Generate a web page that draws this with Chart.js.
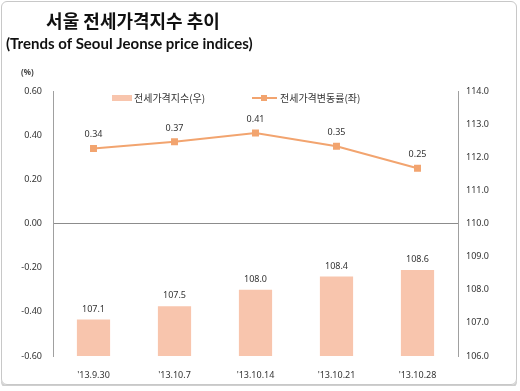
<!DOCTYPE html>
<html>
<head>
<meta charset="utf-8">
<script src="https://cdn.jsdelivr.net/npm/chart.js@4"></script>
<style>
  html, body { margin: 0; padding: 0; background: #fff; }
  #wrap {
    position: relative; width: 516px; height: 384px; margin: 1px;
    border: 1px solid #c8c8c8; border-radius: 6px; box-sizing: border-box;
    box-shadow: 0 3px 0 #cfcfcf;
  }
  #chart { position: absolute; left: -1px; top: -1px; }
</style>
</head>
<body>
<div id="wrap"><canvas id="chart" width="520" height="391"></canvas></div>
<script>
// ── data ──
const dates = ["'13.9.30", "'13.10.7", "'13.10.14", "'13.10.21", "'13.10.28"];
const indexValues = [107.1, 107.5, 108.0, 108.4, 108.6];   // 전세가격지수 (right axis)
const changeRates = [0.34, 0.37, 0.41, 0.35, 0.25];        // 전세가격변동률 (left axis)
const seriesNames = ['전세가격지수(우)', '전세가격변동률(좌)'];
const titleKo = '서울 전세가격지수 추이';
const titleEn = '(Trends of Seoul Jeonse price indices)';
const unitLabel = '(%)';

const barColor = '#f8c5ad';
const lineColor = '#f2a46f';
const textColor = '#333';
const numFont = '"Noto Sans", "Noto Sans CJK KR", sans-serif';
const koFont = '"Noto Sans CJK KR", sans-serif';

// ── custom drawing: titles, unit, legend, value labels ──
const extras = {
    id: 'extras',
    afterDatasetsDraw(chart) {
        const ctx = chart.ctx;
        ctx.save();
        // titles
        ctx.fillStyle = '#111';
        ctx.textBaseline = 'middle';
        ctx.textAlign = 'center';
        ctx.font = 'bold 18px ' + koFont;
        ctx.fillText(titleKo, 132, 20);
        ctx.textAlign = 'left';
        ctx.font = 'bold 15px Lato, sans-serif';
        ctx.fillText(titleEn, 5, 43);
        ctx.font = 'bold 8px ' + numFont;
        ctx.fillStyle = '#444';
        ctx.fillText(unitLabel, 20, 72);

        // legend
        ctx.font = '10px ' + koFont;
        ctx.fillStyle = barColor;
        ctx.fillRect(111, 94, 20, 6);
        ctx.fillStyle = textColor;
        ctx.fillText(seriesNames[0], 133, 97);
        ctx.strokeStyle = lineColor;
        ctx.lineWidth = 2;
        ctx.beginPath(); ctx.moveTo(251, 97); ctx.lineTo(276, 97); ctx.stroke();
        ctx.fillStyle = lineColor;
        ctx.fillRect(260, 94, 6, 6);
        ctx.fillStyle = textColor;
        ctx.fillText(seriesNames[1], 279, 97);

        // value labels
        ctx.font = '9px ' + numFont;
        ctx.textAlign = 'center';
        ctx.textBaseline = 'bottom';
        chart.getDatasetMeta(0).data.forEach((el, i) => {
            ctx.fillText(indexValues[i].toFixed(1), el.x, el.y - 6);
        });
        chart.getDatasetMeta(1).data.forEach((el, i) => {
            ctx.fillText(changeRates[i].toFixed(2), el.x, el.y - 9);
        });
        ctx.restore();
    }
};

new Chart(document.getElementById('chart'), {
    data: {
        labels: dates,
        datasets: [
            { type: 'bar', label: seriesNames[0], data: indexValues, yAxisID: 'y1',
              backgroundColor: barColor, barPercentage: 0.41, categoryPercentage: 1, order: 2 },
            { type: 'line', label: seriesNames[1], data: changeRates, yAxisID: 'y',
              borderColor: lineColor, backgroundColor: lineColor, borderWidth: 2,
              pointStyle: 'rect', pointRadius: 3.5, tension: 0, order: 1 }
        ]
    },
    options: {
        responsive: false,
        animation: false,
        layout: { padding: { top: 90, left: 0, right: 0, bottom: 0 } },
        plugins: { legend: { display: false }, tooltip: { enabled: false } },
        scales: {
            x: {
                grid: { display: false }, border: { display: false },
                ticks: { color: textColor, font: { size: 9, family: numFont }, padding: 6 },
                afterFit: (s) => { s.height = 36; }
            },
            y: {
                position: 'left', min: -0.6, max: 0.6,
                border: { display: true, color: '#a0a0a0' },
                grid: { drawTicks: false, color: (c) => c.tick && c.tick.value === 0 ? '#8c8c8c' : 'rgba(0,0,0,0)' },
                ticks: { stepSize: 0.2, color: textColor, font: { size: 9, family: numFont }, padding: 11,
                         callback: (v) => Number(v).toFixed(2) },
                afterFit: (s) => { s.width = 52; }
            },
            y1: {
                position: 'right', min: 106, max: 114,
                border: { display: true, color: '#a0a0a0' },
                grid: { display: false, drawTicks: false },
                ticks: { stepSize: 1, color: textColor, font: { size: 9, family: numFont }, padding: 8,
                         callback: (v) => Number(v).toFixed(1) },
                afterFit: (s) => { s.width = 63; }
            }
        }
    },
    plugins: [extras]
});
</script>
</body>
</html>
